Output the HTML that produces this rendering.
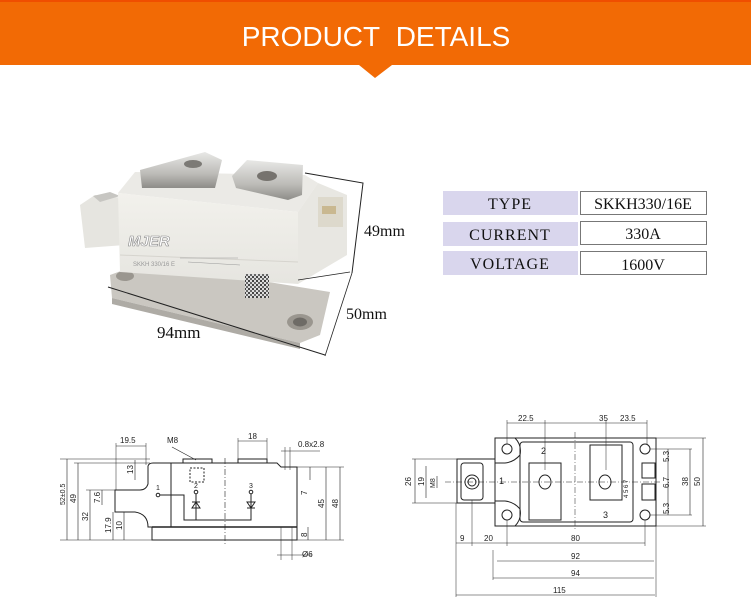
<!DOCTYPE html>
<html><head><meta charset="utf-8"><style>
html,body{margin:0;padding:0;background:#fff;}
body{width:751px;height:615px;overflow:hidden;position:relative;font-family:"Liberation Sans",sans-serif;}
svg{position:absolute;left:0;top:0;}
</style></head><body>
<svg width="751" height="615" viewBox="0 0 751 615" xmlns="http://www.w3.org/2000/svg">
<defs>
<linearGradient id="tab" x1="0" y1="0" x2="0" y2="1"><stop offset="0" stop-color="#e8e8e6"/><stop offset="0.6" stop-color="#bdbcb8"/><stop offset="1" stop-color="#8d8c88"/></linearGradient>
<linearGradient id="front" x1="0" y1="0" x2="0" y2="1"><stop offset="0" stop-color="#f2f1ec"/><stop offset="1" stop-color="#e6e5e0"/></linearGradient>
<pattern id="qr" width="4" height="4" patternUnits="userSpaceOnUse"><rect width="4" height="4" fill="#ddd"/><rect width="2" height="2" fill="#444"/><rect x="2" y="2" width="2" height="2" fill="#666"/></pattern>
</defs>
<!-- header -->
<rect x="0" y="0" width="751" height="65" fill="#f26a05"/>
<rect x="0" y="0" width="751" height="2" fill="#f04e00"/>
<polygon points="359,65 392,65 375,78" fill="#f26a05"/>
<text x="376" y="46" text-anchor="middle" font-size="28" fill="#fff" font-family="Liberation Sans">PRODUCT&#160; DETAILS</text>

<!-- photo -->
<g>
 <polygon points="110,275 145,262 330,292 320,335 300,343 112,298" fill="#cac7c1"/>
 <polygon points="112,298 300,343 300,349 112,304" fill="#aeaba5"/>
 <ellipse cx="300" cy="322" rx="13" ry="8" fill="#9a968f"/>
 <ellipse cx="300" cy="322" rx="7" ry="4.5" fill="#6e6b66"/>
 <ellipse cx="125" cy="276" rx="9" ry="5" fill="#9a968f"/>
 <polygon points="80,205 95,195 125,198 125,245 85,248" fill="#e6e5e0"/>
 <polygon points="93,196 110,192 120,196 100,202" fill="#c7c6c2"/>
 <polygon points="118,193 135,172 305,175 318,183 298,212" fill="#ebeae6"/>
 <polygon points="118,193 298,212 298,284 120,272" fill="url(#front)"/>
 <line x1="120" y1="255" x2="298" y2="262" stroke="#d6d4ce" stroke-width="1"/>
 <polygon points="298,212 318,183 347,195 347,255 298,284" fill="#e8e7e2"/>
 <rect x="318" y="197" width="25" height="30" fill="#ddd9cc"/>
 <rect x="322" y="206" width="14" height="8" fill="#c9b890"/>
 <polygon points="140,170 205,152 222,160 215,188 142,188" fill="url(#tab)"/>
 <ellipse cx="193" cy="164" rx="9" ry="4" fill="#7c7a76"/>
 <polygon points="232,176 247,160 303,165 302,195 288,200 236,188" fill="url(#tab)"/>
 <ellipse cx="267" cy="176" rx="10" ry="5" fill="#76736e"/>
 <text x="128" y="246" font-size="15" font-weight="bold" font-style="italic" fill="#fff" stroke="#888" stroke-width="0.6" font-family="Liberation Sans">MJER</text>
 <text x="133" y="266" font-size="6" fill="#999">SKKH 330/16 E</text>
 <line x1="180" y1="258" x2="238" y2="258" stroke="#999" stroke-width="0.6"/>
 <line x1="188" y1="262" x2="240" y2="265" stroke="#999" stroke-width="0.6"/>
 <rect x="245" y="274" width="24" height="24" fill="url(#qr)"/>
 <polyline points="305,173 363,183 352,273" fill="none" stroke="#222" stroke-width="1"/>
 <line x1="298" y1="280" x2="350" y2="272" stroke="#222" stroke-width="0.8"/>
 <line x1="352" y1="273" x2="325" y2="356" stroke="#222" stroke-width="0.8"/>
 <line x1="108" y1="287" x2="325" y2="355" stroke="#222" stroke-width="1"/>
 <text x="364" y="236" font-size="16" font-family="Liberation Serif" fill="#111">49mm</text>
 <text x="346" y="319" font-size="16" font-family="Liberation Serif" fill="#111">50mm</text>
 <text x="157" y="338" font-size="17" font-family="Liberation Serif" fill="#111">94mm</text>
</g>

<!-- table -->
<g font-family="Liberation Serif" font-size="16" fill="#111" text-anchor="middle" letter-spacing="1">
 <rect x="443" y="191" width="135" height="24" fill="#d9d6ed"/>
 <rect x="443" y="222" width="135" height="24" fill="#d9d6ed"/>
 <rect x="443" y="251" width="135" height="24" fill="#d9d6ed"/>
 <rect x="580.5" y="191.5" width="126" height="23" fill="#fff" stroke="#777"/>
 <rect x="580.5" y="221.5" width="126" height="23" fill="#fff" stroke="#777"/>
 <rect x="580.5" y="251.5" width="126" height="23" fill="#fff" stroke="#777"/>
 <text x="510" y="209">TYPE</text>
 <text x="510" y="240">CURRENT</text>
 <text x="510" y="269">VOLTAGE</text>
 <text x="643" y="209" letter-spacing="0">SKKH330/16E</text>
 <text x="643" y="239" letter-spacing="0">330A</text>
 <text x="643" y="270" letter-spacing="0">1600V</text>
</g>

<!-- left drawing -->
<g stroke="#222" stroke-width="1" fill="none">
 <path d="M148,466 Q149,463 153,463 L277,463 L281,467 L297,467 L297,527 L277,527"/>
 <path d="M148,466 L148,484 Q146,490 140,490 L115,490 L115,512 L135,512 Q148,514 148,527 L152,527"/>
 <rect x="152" y="527" width="145" height="13"/>
 <line x1="152" y1="527" x2="297" y2="527" stroke-width="1.6"/>
 <line x1="171" y1="463" x2="171" y2="527"/>
 <rect x="183" y="459" width="29" height="4"/>
 <rect x="238" y="459" width="29" height="4"/>
 <rect x="190" y="468" width="14" height="14" stroke-dasharray="2,1.5"/>
 <line x1="225" y1="458" x2="225" y2="545" stroke-dasharray="6,2,1,2" stroke-width="0.6"/>
 <circle cx="158" cy="495" r="1.8"/>
 <circle cx="196" cy="492" r="1.8"/>
 <circle cx="251" cy="492" r="1.8"/>
 <polyline points="160,495 184,495 184,520 251,520 251,494"/>
 <line x1="196" y1="494" x2="196" y2="520"/>
 <path d="M192,508 L200,508 L196,502 Z M192,502 L200,502"/>
 <path d="M247,502 L255,502 L251,508 Z M247,508 L255,508"/>
 <line x1="67" y1="459" x2="67" y2="540" stroke-width="0.6"/><line x1="60" y1="459" x2="150" y2="459" stroke-width="0.5"/>
 <line x1="78" y1="463" x2="78" y2="540" stroke-width="0.6"/><line x1="74" y1="463" x2="150" y2="463" stroke-width="0.5"/>
 <line x1="90" y1="490" x2="90" y2="540" stroke-width="0.6"/><line x1="86" y1="490" x2="115" y2="490" stroke-width="0.5"/>
 <line x1="102" y1="490" x2="102" y2="505" stroke-width="0.6"/>
 <line x1="113" y1="512" x2="113" y2="540" stroke-width="0.6"/>
 <line x1="124" y1="512" x2="124" y2="540" stroke-width="0.6"/>
 <line x1="135" y1="460" x2="135" y2="480" stroke-width="0.6"/>
 <line x1="60" y1="540" x2="152" y2="540" stroke-width="0.5"/>
 <line x1="116" y1="446" x2="146" y2="446" stroke-width="0.6"/>
 <line x1="116" y1="443" x2="116" y2="490" stroke-width="0.5"/><line x1="146" y1="443" x2="146" y2="465" stroke-width="0.5"/>
 <line x1="172" y1="447" x2="196" y2="460" stroke-width="0.6"/>
 <line x1="238" y1="441" x2="267" y2="441" stroke-width="0.6"/>
 <line x1="238" y1="438" x2="238" y2="459" stroke-width="0.5"/><line x1="267" y1="438" x2="267" y2="459" stroke-width="0.5"/>
 <line x1="281" y1="451" x2="320" y2="451" stroke-width="0.5"/>
 <line x1="285" y1="447" x2="285" y2="470" stroke-width="0.5"/><line x1="290" y1="447" x2="290" y2="470" stroke-width="0.5"/>
 <line x1="310" y1="467" x2="310" y2="480" stroke-width="0.6"/>
 <line x1="326" y1="467" x2="326" y2="540" stroke-width="0.6"/>
 <line x1="340" y1="467" x2="340" y2="540" stroke-width="0.6"/>
 <line x1="297" y1="467" x2="344" y2="467" stroke-width="0.5"/>
 <line x1="297" y1="540" x2="344" y2="540" stroke-width="0.5"/>
 <line x1="308" y1="527" x2="308" y2="540" stroke-width="0.6"/>
 <line x1="277" y1="555" x2="312" y2="555" stroke-width="0.5"/>
 <line x1="281" y1="527" x2="281" y2="560" stroke-width="0.5"/><line x1="292" y1="527" x2="292" y2="560" stroke-width="0.5"/>
</g>
<g font-family="Liberation Sans" font-size="8" fill="#222">
 <text x="120" y="443">19.5</text><text x="167" y="443">M8</text><text x="248" y="439">18</text><text x="298" y="447">0.8x2.8</text>
 <text x="156" y="490" font-size="7">1</text><text x="194" y="488" font-size="7">2</text><text x="249" y="488" font-size="7">3</text>
 <text transform="translate(65,505) rotate(-90)" font-size="7">52±0.5</text>
 <text transform="translate(76,503) rotate(-90)">49</text>
 <text transform="translate(88,521) rotate(-90)">32</text>
 <text transform="translate(100,503) rotate(-90)">7.6</text>
 <text transform="translate(133,474) rotate(-90)">13</text>
 <text transform="translate(111,533) rotate(-90)">17.9</text>
 <text transform="translate(122,530) rotate(-90)">10</text>
 <text transform="translate(307,495) rotate(-90)">7</text>
 <text transform="translate(324,508) rotate(-90)">45</text>
 <text transform="translate(338,508) rotate(-90)">48</text>
 <text transform="translate(307,537) rotate(-90)">8</text>
 <text x="302" y="557">Ø6</text>
</g>

<!-- right drawing -->
<g stroke="#222" stroke-width="1" fill="none">
 <rect x="495" y="438" width="161" height="88"/>
 <rect x="520" y="442" width="113" height="80" rx="3"/>
 <path d="M495,459 L457,459 L457,503 L495,503"/>
 <rect x="461" y="463" width="22" height="37" rx="3"/>
 <circle cx="472" cy="482" r="7"/><circle cx="472" cy="482" r="4"/>
 <path d="M495,438 L515,438 Q522,445 520,455 Q514,462 505,463 L495,463"/>
 <path d="M495,526 L515,526 Q522,519 520,509 Q514,502 505,501 L495,501"/>
 <circle cx="507" cy="449" r="5"/><circle cx="645" cy="449" r="5"/>
 <circle cx="507" cy="515" r="5"/><circle cx="645" cy="515" r="5"/>
 <rect x="529" y="463" width="32" height="57"/>
 <ellipse cx="545" cy="482" rx="6" ry="7"/>
 <rect x="590" y="445" width="32" height="55"/>
 <ellipse cx="605" cy="482" rx="6" ry="7"/>
 <rect x="642" y="463" width="13" height="15"/><rect x="642" y="484" width="13" height="16"/>
 <line x1="445" y1="482" x2="660" y2="482" stroke-dasharray="6,2,1,2" stroke-width="0.5"/>
 <line x1="575" y1="432" x2="575" y2="530" stroke-dasharray="6,2,1,2" stroke-width="0.5"/>
 <line x1="507" y1="423" x2="647" y2="423" stroke-width="0.6"/>
 <line x1="507" y1="420" x2="507" y2="444" stroke-width="0.5"/><line x1="545" y1="420" x2="545" y2="470" stroke-width="0.5"/>
 <line x1="606" y1="420" x2="606" y2="470" stroke-width="0.5"/><line x1="647" y1="420" x2="647" y2="444" stroke-width="0.5"/>
 <line x1="456" y1="543" x2="645" y2="543" stroke-width="0.6"/>
 <line x1="456" y1="503" x2="456" y2="597" stroke-width="0.5"/><line x1="472" y1="500" x2="472" y2="546" stroke-width="0.5"/>
 <line x1="507" y1="520" x2="507" y2="546" stroke-width="0.5"/><line x1="645" y1="520" x2="645" y2="546" stroke-width="0.5"/>
 <line x1="497" y1="561" x2="654" y2="561" stroke-width="0.6"/>
 <line x1="493" y1="578" x2="654" y2="578" stroke-width="0.6"/>
 <line x1="456" y1="595" x2="655" y2="595" stroke-width="0.6"/>
 <line x1="493" y1="550" x2="493" y2="580" stroke-width="0.5"/><line x1="656" y1="526" x2="656" y2="597" stroke-width="0.5"/>
 <line x1="415" y1="459" x2="415" y2="503" stroke-width="0.6"/>
 <line x1="426" y1="466" x2="426" y2="498" stroke-width="0.6"/>
 <line x1="437" y1="476" x2="437" y2="488" stroke-width="0.6"/>
 <line x1="412" y1="459" x2="457" y2="459" stroke-width="0.5"/><line x1="412" y1="503" x2="457" y2="503" stroke-width="0.5"/>
 <line x1="668" y1="449" x2="668" y2="515" stroke-width="0.6"/>
 <line x1="690" y1="449" x2="690" y2="515" stroke-width="0.6"/>
 <line x1="703" y1="438" x2="703" y2="526" stroke-width="0.6"/>
 <line x1="650" y1="438" x2="706" y2="438" stroke-width="0.5"/><line x1="650" y1="526" x2="706" y2="526" stroke-width="0.5"/>
 <line x1="650" y1="449" x2="692" y2="449" stroke-width="0.5"/><line x1="650" y1="515" x2="692" y2="515" stroke-width="0.5"/>
</g>
<g font-family="Liberation Sans" font-size="8" fill="#222">
 <text x="518" y="421">22.5</text><text x="599" y="421">35</text><text x="620" y="421">23.5</text>
 <text x="460" y="541">9</text><text x="484" y="541">20</text><text x="571" y="541">80</text>
 <text x="571" y="559">92</text><text x="571" y="576">94</text><text x="553" y="593">115</text>
 <text x="499" y="484" font-size="9">1</text><text x="541" y="454" font-size="9">2</text><text x="603" y="518" font-size="9">3</text>
 <text transform="translate(411,486) rotate(-90)">26</text>
 <text transform="translate(424,486) rotate(-90)">19</text>
 <text transform="translate(435,488) rotate(-90)" font-size="7">M8</text>
 <text transform="translate(628,498) rotate(-90)" font-size="6">4 5 6 7</text>
 <text transform="translate(669,462) rotate(-90)">5.3</text>
 <text transform="translate(669,488) rotate(-90)">6.7</text>
 <text transform="translate(669,514) rotate(-90)">5.3</text>
 <text transform="translate(688,486) rotate(-90)">38</text>
 <text transform="translate(700,486) rotate(-90)">50</text>
</g>
</svg>
</body></html>
